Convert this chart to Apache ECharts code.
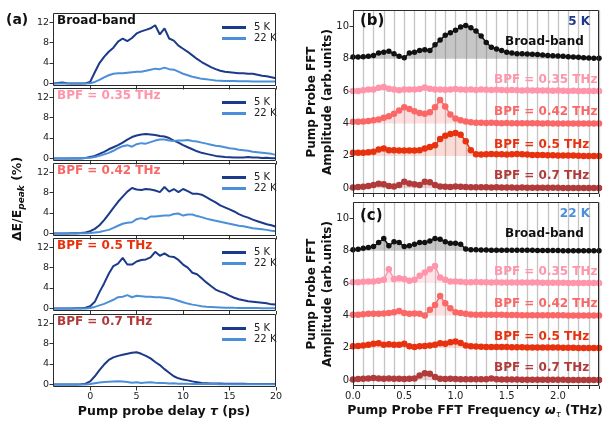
<!DOCTYPE html>
<html>
<head>
<meta charset="utf-8">
<script src="https://cdn.jsdelivr.net/npm/echarts@6/dist/echarts.min.js"></script>
<style>html,body{margin:0;padding:0;background:#fff}#c{width:606px;height:422px}</style>
</head>
<body>
<div id="c"></div>
<script>
// ---------- Data: panel (a) time traces ----------
const delay = [-4,-3.5,-3,-2.5,-2,-1.5,-1,-0.5,0,0.5,1,1.5,2,2.5,3,3.5,4,4.5,5,5.5,6,6.5,7,7.5,8,8.5,9,9.5,10,10.5,11,11.5,12,12.5,13,13.5,14,14.5,15,15.5,16,16.5,17,17.5,18,18.5,19,19.5,20];
const traceLabels = ['Broad-band','BPF = 0.35 THz','BPF = 0.42 THz','BPF = 0.5 THz','BPF = 0.7 THz'];
const bb_5K  = [0,0.1,0.2,0.05,0,0,0,0.05, 0.3,2.2,4.0,5.2,6.2,7.0,8.2,8.8,8.3,8.9, 9.8,10.2,10.5,10.8,11.4,9.6,10.8,8.8,8.4,7.4, 6.8,6.2,5.5,4.8,4.2,3.7,3.2,2.8,2.5,2.3, 2.2,2.1,2.0,2.0,1.9,1.9,1.7,1.5,1.4,1.2,1.0];
const bb_22K = [0,0,0,0,0,0,0,0, 0.05,0.3,0.7,1.2,1.6,1.9,2.0,2.0,2.1,2.2, 2.3,2.3,2.5,2.7,2.9,2.8,3.1,2.8,2.7,2.3, 1.9,1.6,1.3,1.1,0.9,0.8,0.7,0.6,0.55,0.5, 0.5,0.5,0.45,0.45,0.45,0.4,0.4,0.4,0.4,0.4,0.4];
const p35_5K  = [0,0,0,0,0,0,0,0.1, 0.3,0.5,0.9,1.3,1.8,2.2,2.6,3.1,3.7,4.2, 4.5,4.7,4.8,4.7,4.6,4.4,4.3,4.0,3.5,3.1, 2.6,2.2,1.8,1.4,1.1,0.9,0.7,0.5,0.4,0.3, 0.25,0.2,0.2,0.2,0.3,0.2,0.2,0.1,0.15,0.05,0.05];
const p35_22K = [0,0,0,0,0.05,0.05,0.1,0.1, 0.15,0.3,0.5,0.8,1.1,1.5,2.0,2.4,2.6,2.3, 2.8,3.0,2.9,3.2,3.5,3.7,3.7,3.5,3.4,3.5, 3.5,3.6,3.4,3.3,3.1,2.9,2.7,2.5,2.4,2.2, 2.0,1.9,1.7,1.6,1.5,1.3,1.2,1.1,1.0,0.9,0.7];
const p42_5K  = [0,0,0,0,0.05,0.05,0.1,0.2, 0.45,0.9,1.6,2.6,3.8,5.0,6.2,7.2,8.2,8.9, 8.6,8.5,8.7,8.6,8.4,8.1,9.1,8.2,8.7,8.1, 8.7,8.3,7.8,7.8,7.6,7.1,6.6,6.1,5.5,5.1, 4.7,4.3,3.8,3.4,3.1,2.7,2.4,2.1,1.8,1.6,1.3];
const p42_22K = [0,0,0,0,0,0,0.05,0.05, 0.1,0.2,0.3,0.5,0.7,1.1,1.5,1.9,2.1,2.2, 2.8,3.0,2.8,3.3,3.3,3.4,3.5,3.5,3.8,3.9, 3.5,3.7,3.7,3.4,3.2,2.9,2.7,2.5,2.3,2.1, 1.9,1.7,1.5,1.4,1.2,1.0,0.9,0.8,0.7,0.55,0.45];
const p5_5K   = [0,0,0,0,0,0.05,0.05,0.15, 0.45,1.3,3.2,4.9,6.8,8.3,8.8,9.9,8.6,8.6, 9.2,9.5,9.6,10.0,11.1,10.3,10.8,10.2,10.1,9.5, 8.6,8.0,7.0,6.7,5.9,5.1,4.4,3.7,3.3,3.0, 2.5,2.1,1.8,1.6,1.4,1.3,1.2,1.1,1.0,0.8,0.75];
const p5_22K  = [0,0,0,0,0,0,0,0, 0.1,0.3,0.6,0.9,1.3,1.7,2.2,2.3,2.6,2.2, 2.5,2.4,2.3,2.3,2.2,2.2,2.1,2.0,1.8,1.5, 1.2,0.95,0.75,0.6,0.45,0.35,0.3,0.25,0.2,0.15, 0.15,0.12,0.1,0.1,0.1,0.08,0.08,0.06,0.05,0.05,0.05];
const p7_5K   = [0,0,0,0,0,0,0.05,0.15, 0.6,1.6,2.8,3.9,4.8,5.3,5.6,5.8,6.0,6.2, 6.3,6.0,5.6,5.1,4.4,3.8,3.0,2.3,1.6,1.2, 0.95,0.8,0.6,0.45,0.3,0.25,0.2,0.2,0.2,0.15, 0.15,0.15,0.12,0.12,0.1,0.1,0.1,0.1,0.1,0.1,0.1];
const p7_22K  = [0,0,0,0,0,0,0,0, 0.1,0.25,0.4,0.5,0.55,0.6,0.65,0.6,0.5,0.35, 0.45,0.3,0.4,0.45,0.35,0.3,0.3,0.2,0.25,0.15, 0.15,0.12,0.1,0.1,0.1,0.08,0.08,0.08,0.06,0.06, 0.06,0.05,0.05,0.05,0.05,0.05,0.05,0.05,0.05,0.05,0.05];
const delayTicks = [0,5,10,15,20];
const traceTicks = [0,4,8,12];

// ---------- Data: panels (b) 5 K and (c) 22 K FFT spectra (offset) ----------
const freq = [0,0.05,0.1,0.15,0.2,0.25,0.3,0.35,0.4,0.45,0.5,0.55,0.6,0.65,0.7,0.75,0.8,0.85,0.9,0.95,1.0,1.05,1.1,1.15,1.2,1.25,1.3,1.35,1.4,1.45,1.5,1.55,1.6,1.65,1.7,1.75,1.8,1.85,1.9,1.95,2.0,2.05,2.1,2.15,2.2,2.25,2.3,2.35,2.4];
const offsets = [8,6,4,2,0];
const fft5_bb  = [8.1,8.1,8.12,8.15,8.2,8.35,8.4,8.45,8.3,8.15, 8.05,8.35,8.4,8.5,8.55,8.5,8.85,9.15,9.45,9.6, 9.75,9.95,10.05,9.9,9.7,9.4,9.0,8.7,8.6,8.5, 8.4,8.35,8.3,8.3,8.28,8.27,8.25,8.22,8.2,8.18, 8.16,8.14,8.12,8.1,8.08,8.06,8.04,8.03,8.02];
const fft5_35  = [6.0,6.0,6.05,6.1,6.1,6.2,6.25,6.15,6.1,6.05, 6.1,6.1,6.1,6.12,6.22,6.15,6.1,6.1,6.08,6.1, 6.12,6.1,6.08,6.1,6.07,6.1,6.08,6.06,6.08,6.06, 6.05,6.06,6.05,6.04,6.05,6.04,6.03,6.04,6.03,6.02, 6.03,6.02,6.01,6.02,6.01,6.0,6.0,6.0,6.0];
const fft5_42  = [4.1,4.1,4.12,4.15,4.2,4.25,4.35,4.45,4.6,4.8, 5.0,4.9,4.75,4.65,4.6,4.7,5.0,5.45,5.05,4.55, 4.3,4.2,4.12,4.08,4.05,4.05,4.03,4.04,4.03,4.02, 4.03,4.02,4.02,4.01,4.02,4.01,4.01,4.0,4.01,4.0, 4.0,4.0,4.0,4.0,4.0,4.0,4.0,4.0,4.0];
const fft5_5   = [2.2,2.2,2.2,2.22,2.25,2.4,2.45,2.35,2.35,2.33, 2.33,2.33,2.33,2.35,2.45,2.55,2.65,3.05,3.25,3.35, 3.42,3.3,2.9,2.35,2.1,2.08,2.1,2.12,2.1,2.1, 2.08,2.1,2.12,2.1,2.08,2.06,2.05,2.05,2.04,2.04, 2.03,2.03,2.02,2.02,2.01,2.0,2.0,2.0,2.0];
const fft5_7   = [0.05,0.08,0.1,0.15,0.2,0.28,0.25,0.15,0.12,0.2, 0.4,0.3,0.25,0.2,0.4,0.38,0.2,0.12,0.1,0.08, 0.12,0.1,0.08,0.07,0.06,0.07,0.06,0.05,0.06,0.05, 0.05,0.05,0.04,0.05,0.04,0.04,0.03,0.04,0.03,0.03, 0.03,0.02,0.02,0.02,0.02,0.02,0.02,0.02,0.02];
const fft22_bb = [8.05,8.08,8.15,8.2,8.25,8.5,8.75,8.3,8.55,8.5, 8.25,8.3,8.4,8.5,8.5,8.6,8.75,8.7,8.55,8.45, 8.45,8.4,8.1,8.05,8.05,8.04,8.04,8.03,8.03,8.03, 8.03,8.02,8.02,8.02,8.02,8.02,8.01,8.01,8.01,8.01, 8.01,8.0,8.0,8.0,8.0,8.0,8.0,8.0,8.0];
const fft22_35 = [6.05,6.05,6.08,6.1,6.1,6.15,6.2,6.85,6.25,6.3, 6.25,6.15,6.2,6.45,6.65,6.85,7.05,6.35,6.2,6.1, 6.1,6.08,6.05,6.05,6.06,6.05,6.05,6.04,6.05,6.04, 6.04,6.04,6.03,6.04,6.03,6.03,6.03,6.02,6.02,6.02, 6.02,6.02,6.01,6.01,6.01,6.01,6.0,6.0,6.0];
const fft22_42 = [4.05,4.05,4.08,4.1,4.1,4.1,4.12,4.15,4.2,4.28, 4.15,4.1,4.12,4.1,4.0,4.35,4.65,5.2,4.75,4.45, 4.2,4.15,4.1,4.06,4.05,4.05,4.04,4.05,4.04,4.04, 4.03,4.03,4.03,4.02,4.02,4.02,4.02,4.01,4.01,4.01, 4.01,4.01,4.0,4.0,4.0,4.0,4.0,4.0,4.0];
const fft22_5  = [2.1,2.12,2.15,2.2,2.25,2.28,2.2,2.22,2.2,2.2, 2.25,2.1,2.05,2.1,2.12,2.15,2.2,2.28,2.25,2.35, 2.4,2.3,2.15,2.1,2.08,2.07,2.06,2.06,2.05,2.05, 2.05,2.04,2.04,2.04,2.03,2.03,2.03,2.02,2.02,2.02, 2.02,2.01,2.01,2.01,2.0,2.0,2.0,2.0,2.0];
const fft22_7  = [0.05,0.08,0.1,0.12,0.15,0.12,0.1,0.12,0.1,0.1, 0.08,0.1,0.12,0.3,0.43,0.4,0.2,0.1,0.08,0.1, 0.08,0.07,0.06,0.06,0.07,0.06,0.06,0.12,0.06,0.05, 0.05,0.05,0.05,0.04,0.04,0.04,0.04,0.03,0.03,0.03, 0.03,0.03,0.02,0.02,0.02,0.02,0.02,0.02,0.02];
const fftTicks = [0,2,4,6,8,10];
const freqLabels = [0,0.5,1.0,1.5,2.0];

// ---------- Styling ----------
const FONT = 'DejaVu Sans';
const C5 = '#1c3a8a', C22 = '#4b8fd9';
const labelColors = ['#111111','#ff94aa','#fb6767','#e8320f','#b13a3a'];
const fillColors = ['rgba(120,120,120,0.6)','rgba(255,148,170,0.35)','rgba(251,103,103,0.3)','rgba(232,50,15,0.25)','rgba(177,58,58,0.3)'];

const L = {lx: 53, lw: 223, lh: 73, rx: 353, rw: 246, rh: 184};
const leftTops = [13, 88, 163, 238, 314];
const grids = [], xAxes = [], yAxes = [], series = [], legends = [], graphics = [];

const traces5 = [bb_5K, p35_5K, p42_5K, p5_5K, p7_5K];
const traces22 = [bb_22K, p35_22K, p42_22K, p5_22K, p7_22K];

function frame(x, y, w, h) {
  graphics.push({type: 'rect', silent: true, z: 100, shape: {x: x + 0.5, y: y + 0.5, width: w - 1, height: h - 1},
    style: {fill: 'none', stroke: '#2a2a2a', lineWidth: 1}});
}

leftTops.forEach((T, i) => {
  grids.push({left: L.lx, top: T, width: L.lw, height: L.lh});
  frame(L.lx, T, L.lw, L.lh);
  xAxes.push({type: 'value', gridIndex: i, min: -4, max: 20,
    axisLine: {show: false, onZero: false}, splitLine: {show: false},
    axisTick: {show: true, customValues: delayTicks, length: 3.5, lineStyle: {color: '#333'}},
    axisLabel: {show: i === 4, customValues: delayTicks, fontSize: 9.5, fontFamily: FONT, color: '#222', margin: 5}});
  yAxes.push({type: 'value', gridIndex: i, min: -0.5, max: 13.8,
    axisLine: {show: false, onZero: false}, splitLine: {show: false},
    axisTick: {show: true, customValues: traceTicks, length: 3.5, lineStyle: {color: '#333'}},
    axisLabel: {customValues: traceTicks, fontSize: 9.5, fontFamily: FONT, color: '#222', margin: 4}});
  series.push({type: 'line', name: '5 K', xAxisIndex: i, yAxisIndex: i, showSymbol: false, symbol: 'none',
    data: delay.map((t, k) => [t, traces5[i][k]]), lineStyle: {color: C5, width: 2}, itemStyle: {color: C5}, z: 3});
  series.push({type: 'line', name: '22 K', xAxisIndex: i, yAxisIndex: i, showSymbol: false, symbol: 'none',
    data: delay.map((t, k) => [t, traces22[i][k]]), lineStyle: {color: C22, width: 2}, itemStyle: {color: C22}, z: 3});
  legends.push({left: 217, top: T + 4, orient: 'vertical', icon: 'rect', itemWidth: 24, itemHeight: 3, itemGap: 0,
    selectedMode: false, data: ['5 K', '22 K'],
    textStyle: {fontSize: 10, fontFamily: FONT, color: '#222', lineHeight: 11, padding: [0, 0, 0, 3]}});
  graphics.push({type: 'text', x: 57, y: T + 8, z: 110, style: {text: traceLabels[i], fill: labelColors[i],
    font: 'bold 12px "DejaVu Sans"', textVerticalAlign: 'middle', verticalAlign: 'middle'}});
});

const rightTops = [10, 202];
const spectra = [[fft5_bb, fft5_35, fft5_42, fft5_5, fft5_7], [fft22_bb, fft22_35, fft22_42, fft22_5, fft22_7]];
rightTops.forEach((T, j) => {
  const gi = 5 + j;
  grids.push({left: L.rx, top: T, width: L.rw, height: L.rh});
  frame(L.rx, T, L.rw, L.rh);
  xAxes.push({type: 'value', gridIndex: gi, min: 0, max: 2.4, interval: 0.1,
    axisLine: {show: false, onZero: false},
    splitLine: {show: true, lineStyle: {color: '#c4c4c4', width: 1.3}},
    axisTick: {show: true, length: 3, lineStyle: {color: '#333'}},
    axisLabel: {show: j === 1, customValues: freqLabels, formatter: v => v.toFixed(1), fontSize: 10, fontFamily: FONT, color: '#222', margin: 5}});
  yAxes.push({type: 'value', gridIndex: gi, min: -0.35, max: 11,
    axisLine: {show: false, onZero: false}, splitLine: {show: false},
    axisTick: {show: true, customValues: fftTicks, length: 3.5, lineStyle: {color: '#333'}},
    axisLabel: {customValues: fftTicks, fontSize: 10, fontFamily: FONT, color: '#222', margin: 4}});
  spectra[j].forEach((arr, s) => {
    series.push({type: 'line', name: 'fft' + j + s, xAxisIndex: gi, yAxisIndex: gi,
      data: freq.map((f, k) => [f, arr[k]]),
      symbol: 'circle', symbolSize: s === 0 ? 5.5 : 6.5, showSymbol: true,
      lineStyle: {color: labelColors[s], width: 1.5}, itemStyle: {color: labelColors[s]},
      areaStyle: {color: fillColors[s], origin: offsets[s]}, z: 3 + s});
  });
  const rowY = [42, 80, 111.5, 145, 175.5];
  rowY.forEach((yy, s) => {
    graphics.push({type: 'text', x: s === 0 ? 505 : 494, y: yy + 192 * j, z: 110, style: {text: traceLabels[s], fill: labelColors[s],
      font: 'bold 12px "DejaVu Sans"', textVerticalAlign: 'middle', verticalAlign: 'middle'}});
  });
  graphics.push({type: 'text', x: 590, y: 21.5 + 192 * j, z: 110, style: {text: j === 0 ? '5 K' : '22 K', fill: j === 0 ? C5 : C22,
    font: 'bold 12px "DejaVu Sans"', textAlign: 'right', align: 'right', textVerticalAlign: 'middle', verticalAlign: 'middle'}});
  graphics.push({type: 'text', x: 360, y: 21.5 + 195 * j, z: 110, style: {text: j === 0 ? '(b)' : '(c)', fill: '#111',
    font: 'bold 15px "DejaVu Sans"', textVerticalAlign: 'middle', verticalAlign: 'middle'}});
  graphics.push({type: 'text', x: 320, y: 102 + 192 * j, rotation: Math.PI / 2, style: {text: 'Pump Probe FFT\nAmplitude (arb.units)',
    fill: '#111', font: 'bold 12px "DejaVu Sans"', lineHeight: 16, textAlign: 'center', align: 'center', textVerticalAlign: 'middle', verticalAlign: 'middle'}});
});

graphics.push({type: 'text', x: 6, y: 20.5, style: {text: '(a)', fill: '#111', font: 'bold 14px "DejaVu Sans"', textVerticalAlign: 'middle', verticalAlign: 'middle'}});
graphics.push({type: 'text', x: 18, y: 199, rotation: Math.PI / 2, style: {
  text: '{a|ΔE/E}{s|peak}{a| (%)}', fill: '#111', textAlign: 'center', align: 'center', textVerticalAlign: 'middle', verticalAlign: 'middle',
  rich: {a: {font: 'bold 12.5px "DejaVu Sans"', lineHeight: 16, fill: '#111'}, s: {font: 'italic bold 9px "DejaVu Sans"', verticalAlign: 'bottom', lineHeight: 9, fill: '#111'}}}});
graphics.push({type: 'text', x: 164, y: 412, style: {
  text: '{a|Pump probe delay }{i|τ}{a| (ps)}', textAlign: 'center', align: 'center', textVerticalAlign: 'middle', verticalAlign: 'middle',
  rich: {a: {font: 'bold 12.5px "DejaVu Sans"', fill: '#111'}, i: {font: 'italic bold 12.5px "DejaVu Sans"', fill: '#111'}}}});
graphics.push({type: 'text', x: 475, y: 411, style: {
  text: '{a|Pump Probe FFT Frequency }{i|ω}{s|τ}{a| (THz)}', textAlign: 'center', align: 'center', textVerticalAlign: 'middle', verticalAlign: 'middle',
  rich: {a: {font: 'bold 12.5px "DejaVu Sans"', fill: '#111', lineHeight: 16}, i: {font: 'italic bold 12.5px "DejaVu Sans"', fill: '#111', lineHeight: 16},
         s: {font: 'italic 8.5px "DejaVu Sans"', fill: '#111', verticalAlign: 'bottom', lineHeight: 9}}}});

const chart = echarts.init(document.getElementById('c'), null, {renderer: 'canvas'});
chart.setOption({
  animation: false,
  backgroundColor: '#fff',
  textStyle: {fontFamily: FONT},
  grid: grids, xAxis: xAxes, yAxis: yAxes, series: series, legend: legends, graphic: graphics
});
</script>
</body>
</html>
